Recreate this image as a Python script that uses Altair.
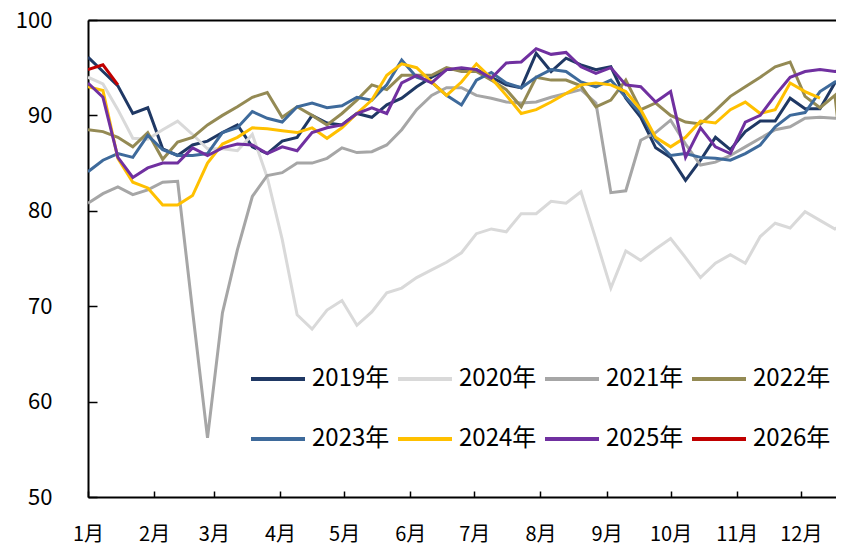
import datetime as dt
import altair as alt
import pandas as pd

FONT = "Noto Sans CJK SC"

years = ["2019年", "2020年", "2021年", "2022年", "2023年", "2024年", "2025年", "2026年"]
colors = ["#1f3864", "#d9d9d9", "#a6a6a6", "#948a54", "#3e6a9b", "#ffc000", "#7030a0", "#c00000"]

v2019 = [96.1, 94.6, 93.1, 90.2, 90.8, 86.5, 85.8, 86.9, 87.3, 88.2,
         89.0, 86.7, 86.0, 87.3, 87.7, 90.0, 89.2, 89.0, 90.2, 89.8,
         91.1, 91.8, 93.0, 94.0, 94.8, 94.8, 94.8, 94.0, 93.2, 92.9,
         96.5, 94.6, 96.0, 95.3, 94.8, 95.1, 91.8, 89.8, 86.6, 85.6,
         83.2, 85.3, 87.7, 86.4, 88.3, 89.4, 89.4, 91.8, 90.7, 90.7,
         93.4, 94.2]
v2020 = [94.0, 93.3, 90.6, 87.6, 87.5, 88.5, 89.4, 88.0, 86.5, 86.5,
         86.3, 88.0, 83.5, 77.0, 69.1, 67.6, 69.6, 70.6, 68.0, 69.4,
         71.4, 71.9, 73.0, 73.8, 74.6, 75.6, 77.6, 78.1, 77.8, 79.7,
         79.7, 81.0, 80.8, 82.0, 77.0, 71.9, 75.8, 74.8, 76.0, 77.1,
         75.1, 73.0, 74.5, 75.4, 74.5, 77.3, 78.7, 78.2, 79.9, 79.0,
         78.1, 79.0]
v2021 = [80.8, 81.8, 82.5, 81.7, 82.2, 83.0, 83.1, 69.5, 56.2, 69.3,
         75.9, 81.5, 83.7, 84.0, 85.0, 85.0, 85.5, 86.6, 86.1, 86.2,
         86.9, 88.5, 90.6, 92.1, 92.9, 92.9, 92.1, 91.8, 91.4, 91.3,
         91.4, 91.9, 92.3, 92.7, 91.3, 81.9, 82.1, 87.4, 88.2, 89.5,
         87.0, 84.8, 85.1, 85.8, 86.7, 87.6, 88.5, 88.8, 89.7, 89.8,
         89.7, 89.7]
v2022 = [88.5, 88.3, 87.7, 86.7, 88.2, 85.4, 87.2, 87.7, 89.0, 90.0,
         90.9, 91.9, 92.4, 89.8, 90.9, 90.0, 89.0, 90.2, 91.6, 93.2,
         92.7, 94.2, 94.2, 94.2, 95.0, 94.6, 94.6, 93.7, 92.7, 90.9,
         94.0, 93.7, 93.7, 93.1, 90.9, 91.6, 93.7, 90.6, 91.3, 90.0,
         89.3, 89.1, 90.5, 92.0, 93.0, 94.0, 95.1, 95.6, 92.0, 90.8,
         92.1, 78.0]
v2023 = [84.1, 85.3, 86.0, 85.6, 87.9, 86.4, 85.8, 85.8, 86.0, 88.2,
         88.7, 90.4, 89.7, 89.3, 90.9, 91.3, 90.8, 91.0, 91.9, 91.6,
         93.2, 95.8, 94.0, 93.5, 92.1, 91.1, 93.7, 94.5, 93.4, 92.9,
         94.0, 94.8, 94.6, 93.5, 93.0, 93.7, 91.9, 90.2, 87.4, 85.8,
         86.0, 85.6, 85.5, 85.3, 86.0, 86.9, 88.8, 90.0, 90.3, 92.5,
         93.5, 93.7]
v2024 = [93.0, 92.6, 85.5, 83.0, 82.4, 80.6, 80.6, 81.6, 85.0, 87.0,
         87.7, 88.7, 88.6, 88.4, 88.2, 88.7, 87.6, 88.7, 90.2, 91.6,
         94.2, 95.4, 95.0, 93.5, 92.1, 93.5, 95.4, 93.9, 92.1, 90.2,
         90.6, 91.4, 92.3, 93.2, 93.4, 93.2, 92.5, 90.6, 87.7, 86.7,
         87.7, 89.4, 89.2, 90.6, 91.4, 90.2, 90.6, 93.4, 92.5, 91.8]
v2025 = [93.4, 91.9, 85.6, 83.5, 84.5, 85.0, 85.0, 86.6, 85.8, 86.6,
         87.0, 86.9, 86.0, 86.7, 86.3, 88.2, 88.7, 89.0, 90.2, 90.8,
         90.2, 93.4, 94.2, 93.4, 94.8, 95.0, 94.8, 93.9, 95.5, 95.6,
         97.0, 96.4, 96.6, 95.1, 94.4, 95.0, 93.2, 93.0, 91.4, 92.5,
         85.6, 88.7, 86.7, 86.0, 89.3, 90.0, 92.1, 94.0, 94.6, 94.8,
         94.6, 94.8]
v2026 = [94.8, 95.3, 93.2]

series = [v2019, v2020, v2021, v2022, v2023, v2024, v2025, v2026]
month_ticks = list(range(1, 13))
y_ticks = [50, 60, 70, 80, 90, 100]

W, H = 748, 477
start = dt.datetime(2001, 1, 1)
rows = []
for name, vals in zip(years, series):
    for i, v in enumerate(vals):
        d = start + dt.timedelta(days=7 * i)
        rows.append({"date": d.strftime("%Y-%m-%dT%H:%M:%S"), "value": v, "year": name})
df = pd.DataFrame(rows)

xscale = alt.Scale(domain=[alt.DateTime(year=2001, month=1, date=1),
                           alt.DateTime(year=2001, month=12, date=17, hours=12)])
yscale = alt.Scale(domain=[50, 100], nice=False, zero=False)
tickvals = [alt.DateTime(year=2001, month=m, date=1) for m in month_ticks]

lines = alt.Chart(df).mark_line(strokeWidth=3, clip=True).encode(
    x=alt.X("date:T", scale=xscale, title=None,
            axis=alt.Axis(orient="bottom", values=tickvals,
                          labelExpr="(month(datum.value)+1) + '月'",
                          ticks=False, tickSize=0, domain=True, domainColor="black",
                          domainWidth=2, labelPadding=27, labelFontSize=20,
                          labelFont=FONT, labelColor="black", grid=False,
                          labelFlush=False, labelOverlap=False)),
    y=alt.Y("value:Q", scale=yscale, title=None,
            axis=alt.Axis(orient="left", values=y_ticks, ticks=False, tickSize=0,
                          domain=True, domainColor="black", domainWidth=2,
                          labelPadding=36, labelFontSize=22, labelFont=FONT,
                          labelColor="black", grid=False)),
    color=alt.Color("year:N", scale=alt.Scale(domain=years, range=colors),
                    legend=alt.Legend(orient="none", legendX=161, legendY=330,
                                      direction="horizontal", columns=4,
                                      symbolType="stroke", symbolSize=2916,
                                      symbolStrokeWidth=4, labelFontSize=24,
                                      labelFont=FONT, labelColor="black",
                                      labelOffset=5, columnPadding=0, rowPadding=19,
                                      title=None, labelLimit=300, padding=0)),
)

frame = alt.Chart(df).mark_line(opacity=0).encode(
    x=alt.X("date:T", scale=xscale, title=None,
            axis=alt.Axis(orient="top", domain=True, domainColor="black", domainWidth=2,
                          ticks=False, labels=False, grid=False)),
    y=alt.Y("value:Q", scale=yscale, title=None,
            axis=alt.Axis(orient="right", offset=-W, values=y_ticks, domain=False,
                          ticks=True, tickSize=9, tickColor="black", tickWidth=1.5,
                          labels=False, grid=False)),
)

xticks = alt.Chart(df).mark_line(opacity=0).encode(
    x=alt.X("date:T", scale=xscale, title=None,
            axis=alt.Axis(orient="top", offset=-H, values=tickvals, domain=False,
                          ticks=True, tickSize=6, tickColor="black", tickWidth=1.5,
                          labels=False, grid=False)),
    y=alt.Y("value:Q", scale=yscale, axis=None),
)

chart = alt.layer(lines, frame, xticks).resolve_axis(
    x="independent", y="independent"
).properties(
    width=W, height=H,
    padding={"left": 80, "top": 12, "right": 0, "bottom": 52},
    autosize=alt.AutoSizeParams(type="none"),
).configure_view(stroke=None)

chart.save("out.html", embed_options={"renderer": "svg", "actions": False})
